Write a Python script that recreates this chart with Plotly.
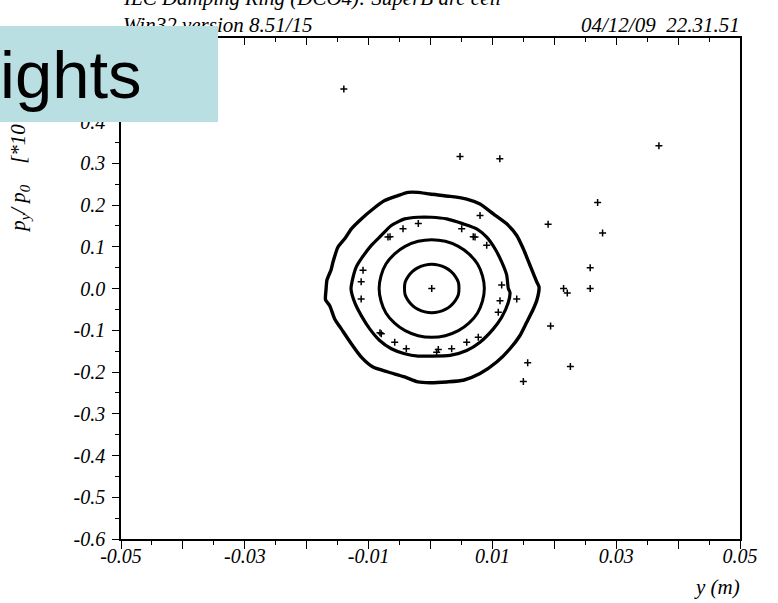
import plotly.graph_objects as go

# ---- data (y in m, py/p0 in units of 1e-3) ----
ring1_y = [0.0046, 0.0045, 0.0040, 0.0033, 0.0024, 0.0013, 0.0002, -0.0009, -0.0020, -0.0029, -0.0036, -0.0041,
           -0.0042, -0.0041, -0.0036, -0.0029, -0.0020, -0.0009, 0.0002, 0.0013, 0.0024, 0.0033, 0.0040, 0.0045, 0.0046]
ring1_p = [0.0, 0.015, 0.029, 0.041, 0.050, 0.056, 0.058, 0.056, 0.050, 0.041, 0.029, 0.015,
           0.0, -0.015, -0.029, -0.041, -0.050, -0.056, -0.058, -0.056, -0.050, -0.041, -0.029, -0.015, 0.0]

ring2_y = [0.0087, 0.0084, 0.0076, 0.0062, 0.0045, 0.0024, 0.0002, -0.0020, -0.0041, -0.0058, -0.0072, -0.0080,
           -0.0083, -0.0080, -0.0072, -0.0058, -0.0041, -0.0020, 0.0002, 0.0024, 0.0045, 0.0062, 0.0076, 0.0084, 0.0087]
ring2_p = [0.0, 0.030, 0.0585, 0.083, 0.101, 0.113, 0.117, 0.113, 0.101, 0.083, 0.0585, 0.030,
           0.0, -0.030, -0.0585, -0.083, -0.101, -0.113, -0.117, -0.113, -0.101, -0.083, -0.0585, -0.030, 0.0]

ring3_y = [-0.01284, -0.01268, -0.01199, -0.01118, -0.00956, -0.00795, -0.00633, -0.00417, -0.00202, 0.00013,
           0.00262, 0.00530, 0.00746, 0.00908, 0.01042, 0.01150, 0.01231, 0.01257, 0.01284, 0.01257, 0.01150,
           0.01015, 0.00800, 0.00585, 0.00315, -0.00008, -0.00202, -0.00417, -0.00633, -0.00821, -0.00982,
           -0.01118, -0.01225, -0.01284]
ring3_p = [-0.0007, 0.016, 0.0517, 0.0714, 0.1033, 0.1271, 0.151, 0.1667, 0.1707, 0.1707,
           0.1667, 0.1548, 0.1429, 0.1231, 0.0952, 0.0636, 0.0319, 0.0, -0.0095, -0.0333, -0.069,
           -0.0967, -0.1286, -0.1483, -0.1602, -0.1619, -0.1619, -0.1562, -0.1443, -0.1245, -0.0967,
           -0.065, -0.0333, -0.0007]

ring4_y = [-0.01696, -0.01688, -0.01672, -0.01607, -0.01575, -0.01494, -0.01386, -0.01279, -0.01118, -0.00929,
           -0.00740, -0.00525, -0.00363, -0.00202, -0.00008, 0.00315, 0.00585, 0.00800, 0.01015, 0.01231,
           0.01393, 0.01499, 0.01607, 0.01716, 0.01753, 0.01720, 0.01661, 0.01554, 0.01446, 0.01284, 0.01069,
           0.00800, 0.00530, 0.00262, -0.00008, -0.00202, -0.00417, -0.00687, -0.00929, -0.01118, -0.01279,
           -0.01441, -0.01548, -0.01628, -0.01696]
ring4_p = [-0.0269, -0.0031, 0.0207, 0.0445, 0.0636, 0.0993, 0.119, 0.1429, 0.1667, 0.1905,
           0.2105, 0.2224, 0.2302, 0.2302, 0.2262, 0.2207, 0.2143, 0.2024, 0.1786, 0.1548,
           0.1271, 0.0952, 0.0557, 0.016, 0.004, -0.0269, -0.049, -0.081, -0.1126, -0.1443, -0.1762,
           -0.2038, -0.2198, -0.2238, -0.2257, -0.2238, -0.2119, -0.2, -0.1881, -0.1643, -0.1324,
           -0.0967, -0.0729, -0.0412, -0.0269]

stray3_y = [-0.0109, -0.0112, -0.00444, -0.00687, 0.0080, 0.00504, 0.00719, 0.00908, 0.0115, -0.0112,
            -0.00795, -0.00578, -0.00391, 0.01123, 0.01393, 0.01095, 0.00772, 0.00585, 0.00342, 0.0010,
            -0.00654, -0.00197, 0.00691, -0.00816, 0.00126]
stray3_p = [0.0438, 0.016, 0.1429, 0.1231, 0.1748, 0.1429, 0.1231, 0.1033, 0.0081, -0.0252,
            -0.1086, -0.1286, -0.1443, -0.0293, -0.0252, -0.0571, -0.1167, -0.1286, -0.1443, -0.1524,
            0.1238, 0.1557, 0.1238, -0.1062, -0.146]

lost_y = [-0.0140, 0.00477, 0.0112, 0.0369, 0.0190, 0.0270, 0.0278, 0.0258, 0.0258, 0.0215,
          0.0221, 0.0194, 0.0157, 0.0226, 0.0150]
lost_p = [0.478, 0.316, 0.311, 0.342, 0.154, 0.206, 0.133, 0.050, 0.0, 0.0,
          -0.011, -0.090, -0.178, -0.187, -0.223]

centre_y = [0.0002]
centre_p = [0.0]

x_tick_vals = [-0.05, -0.04, -0.03, -0.02, -0.01, 0.0, 0.01, 0.02, 0.03, 0.04, 0.05]
x_tick_text = ["-0.05", " ", "-0.03", " ", "-0.01", " ", "0.01", " ", "0.03", " ", "0.05"]
y_tick_vals = [-0.6, -0.5, -0.4, -0.3, -0.2, -0.1, 0.0, 0.1, 0.2, 0.3, 0.4, 0.5]
y_tick_text = ["-0.6", "-0.5", "-0.4", "-0.3", "-0.2", "-0.1", "0.0", "0.1", "0.2", "0.3", "0.4", "0.5"]

# ---- figure ----
W, H = 778, 603
L, R, T, B = 121, 38, 37.5, 64
pw, ph = W - L - R, H - T - B

def px(xp):
    return (xp - L) / pw

def py(yp):
    return (H - B - yp) / ph

SERIF = "Liberation Serif, Times New Roman, serif"
fig = go.Figure()

for ry, rp, w in [(ring4_y, ring4_p, 3.4), (ring3_y, ring3_p, 3.2), (ring2_y, ring2_p, 3.0), (ring1_y, ring1_p, 3.0)]:
    fig.add_trace(go.Scatter(x=ry, y=rp, mode="lines", line=dict(color="black", width=w, shape="spline", smoothing=0.6),
                             hoverinfo="skip", showlegend=False))

mk = dict(symbol="cross-thin", size=5, color="black", line=dict(color="black", width=1.5))
fig.add_trace(go.Scatter(x=stray3_y, y=stray3_p, mode="markers", marker=mk, showlegend=False))
fig.add_trace(go.Scatter(x=lost_y, y=lost_p, mode="markers", marker=mk, showlegend=False))
fig.add_trace(go.Scatter(x=centre_y, y=centre_p, mode="markers", marker=mk, showlegend=False, xaxis="x2"))

tickfont = dict(family=SERIF, size=20, color="black", style="italic")
fig.update_layout(
    width=W, height=H,
    margin=dict(l=L, r=R, t=T, b=B, pad=0),
    paper_bgcolor="white", plot_bgcolor="white",
    showlegend=False,
    xaxis=dict(range=[-0.05, 0.05], tickmode="array", tickvals=x_tick_vals, ticktext=x_tick_text,
               ticks="outside", ticklen=8, tickwidth=1.2, tickcolor="black",
               minor=dict(tickmode="linear", tick0=-0.05, dtick=0.005, ticks="outside", ticklen=4,
                          tickwidth=1.2, tickcolor="black", showgrid=False),
               showline=True, linecolor="black", linewidth=1.5, mirror=True,
               showgrid=False, zeroline=False, tickfont=tickfont, ticklabelstandoff=-10),
    xaxis2=dict(range=[-0.05, 0.05], overlaying="x", side="top", anchor="y",
                tickmode="array", tickvals=x_tick_vals, showticklabels=False,
                ticks="inside", ticklen=7, tickwidth=1.2, tickcolor="black",
                minor=dict(tickmode="linear", tick0=-0.05, dtick=0.005, ticks="inside", ticklen=4,
                           tickwidth=1.2, tickcolor="black", showgrid=False),
                showline=False, showgrid=False, zeroline=False),
    yaxis=dict(range=[-0.6, 0.6], tickmode="array", tickvals=y_tick_vals, ticktext=y_tick_text,
               ticks="outside", ticklen=7, tickwidth=1.2, tickcolor="black",
               minor=dict(tickmode="linear", tick0=-0.6, dtick=0.05, ticks="outside", ticklen=4,
                          tickwidth=1.2, tickcolor="black", showgrid=False),
               showline=True, linecolor="black", linewidth=1.5, mirror=True,
               showgrid=False, zeroline=False, tickfont=tickfont, ticklabelstandoff=3),
)

tfont = dict(family=SERIF, size=21, color="black", style="italic")
ann = [
    dict(text="ILC Damping Ring (DCO4): SuperB arc cell", x=px(122), y=py(10), xanchor="left", yanchor="bottom"),
    dict(text="Win32 version 8.51/15", x=px(122), y=py(37), xanchor="left", yanchor="bottom"),
    dict(text="04/12/09\u00a0\u00a022.31.51", x=px(741), y=py(37), xanchor="right", yanchor="bottom"),
    dict(text="y (m)", x=px(741), y=py(587), xanchor="right", yanchor="middle"),
    dict(text="p<sub>y</sub>/ p<sub>0</sub>\u00a0\u00a0\u00a0\u00a0[*10**(-3)]", x=px(19), y=py(234),
         xanchor="center", yanchor="bottom", textangle=-90),
]
for a in ann:
    fig.add_annotation(xref="paper", yref="paper", showarrow=False, font=tfont, borderpad=0, **a)

# highlight box overlay
fig.add_annotation(xref="paper", yref="paper", showarrow=False, text="ights",
                   x=px(0), y=py(25), xanchor="left", yanchor="top",
                   width=218, height=96, align="left", valign="middle",
                   bgcolor="#b9dfe3", borderpad=0, borderwidth=0,
                   font=dict(family="Liberation Sans", size=67, color="black"))

fig.write_html("out.html", post_script="document.body.style.margin='0';",
               config={"displayModeBar": False})
